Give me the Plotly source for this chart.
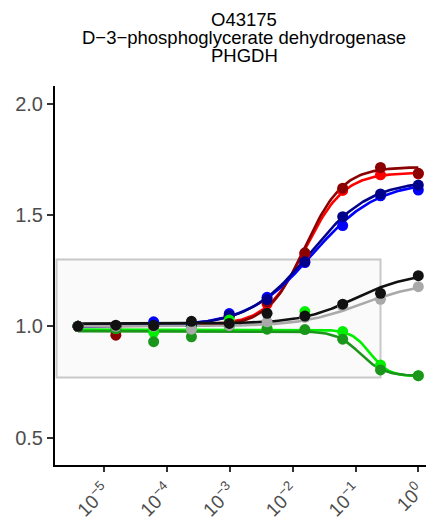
import numpy as np
import plotly.graph_objects as go

# ---------------- data ----------------
conc = [3.815e-6, 1.526e-5, 6.104e-5, 2.441e-4, 9.766e-4, 3.906e-3, 1.5625e-2, 6.25e-2, 0.25, 1.0]

series_names = ["red", "darkred", "blue", "darkblue", "lime", "darkgreen", "gray", "black"]
red       = [1.000, 1.000, 1.000, 1.000, 1.050, 1.100, 1.325, 1.610, 1.680, 1.685]
darkred   = [1.000, 0.960, 1.000, 1.000, 1.045, 1.110, 1.330, 1.620, 1.713, 1.687]
blue      = [1.000, 1.000, 1.020, 1.000, 1.057, 1.130, 1.286, 1.452, 1.586, 1.612]
darkblue  = [1.000, 1.000, 1.005, 1.000, 1.050, 1.120, 1.290, 1.492, 1.594, 1.634]
lime      = [1.000, 0.990, 0.973, 0.990, 1.028, 0.990, 1.066, 0.976, 0.826, 0.778]
darkgreen = [1.000, 0.990, 0.931, 0.953, 1.000, 0.987, 0.985, 0.942, 0.804, 0.778]
gray      = [1.000, 1.000, 1.000, 0.987, 1.003, 1.020, 1.040, 1.090, 1.121, 1.178]
black     = [1.000, 1.005, 1.003, 1.022, 1.013, 1.058, 1.046, 1.099, 1.148, 1.227]

# fitted log-logistic curve parameters: low-conc plateau, high-conc plateau, log10 EC50, hill slope
fit_low   = [1.005, 1.000, 1.000, 1.000, 0.985, 0.978, 1.000, 1.012]
fit_high  = [1.690, 1.715, 1.650, 1.655, 0.775, 0.777, 1.200, 1.240]
fit_logec = [-1.80, -1.80, -1.68, -1.73, -0.77, -0.926, -0.90, -1.00]
fit_hill  = [1.40, 1.45, 0.85, 0.90, 2.90, 2.30, 0.90, 1.00]

colors = ["#FF0000", "#8B0000", "#0000FF", "#00008B", "#00F000", "#1A961A", "#A9A9A9", "#111111"]

title_lines = ["O43175", "D\u22123\u2212phosphoglycerate dehydrogenase", "PHGDH"]
y_ticks = [0.5, 1.0, 1.5, 2.0]
y_ticklabels = ["0.5", "1.0", "1.5", "2.0"]
x_ticks = [1e-5, 1e-4, 1e-3, 1e-2, 1e-1, 1e0]
x_ticklabels = ["10<sup>\u22125</sup>", "10<sup>\u22124</sup>", "10<sup>\u22123</sup>",
                "10<sup>\u22122</sup>", "10<sup>\u22121</sup>", "10<sup>0</sup>"]

# window box (y bounds and x extent)
box_y = [0.77, 1.30]
box_x = [10 ** -5.76, 0.25]

values = [red, darkred, blue, darkblue, lime, darkgreen, gray, black]

# ---------------- figure ----------------
fig = go.Figure()

fig.add_shape(type="rect", xref="x", yref="y",
              x0=box_x[0], x1=box_x[1], y0=box_y[0], y1=box_y[1],
              line=dict(color="#C8C8C8", width=2), fillcolor="#FAFAFA", layer="below")

lx = np.linspace(np.log10(conc[0]), np.log10(conc[-1]), 200)
for i, name in enumerate(series_names):
    A, B, ec, h = fit_low[i], fit_high[i], fit_logec[i], fit_hill[i]
    yc = A + (B - A) / (1 + 10 ** ((ec - lx) * h))
    fig.add_trace(go.Scatter(x=10 ** lx, y=yc, mode="lines",
                             line=dict(color=colors[i], width=2.6),
                             showlegend=False, hoverinfo="skip"))

for i, name in enumerate(series_names):
    fig.add_trace(go.Scatter(x=conc, y=values[i], mode="markers", name=name,
                             marker=dict(color=colors[i], size=11, line=dict(width=0)),
                             showlegend=False))

for k, (txt, sh) in enumerate(zip(title_lines, [67, 49, 31])):
    fig.add_annotation(text=txt, xref="paper", yref="paper", x=0.5, y=1,
                       xanchor="center", yanchor="middle", yshift=sh, showarrow=False,
                       font=dict(family="Liberation Sans, Arial", size=18.5, color="#000000"))

# the page body adds an 8px offset; size the figure to fill the rest of the window
fig.update_layout(
    width=426, height=518,
    margin=dict(l=47, r=1, t=78, b=61, autoexpand=False),
    paper_bgcolor="white", plot_bgcolor="white",
    font=dict(family="Liberation Sans, Arial", color="#4D4D4D"),
)
fig.update_xaxes(type="log", range=[-5.785, 0.234], automargin=False,
                 tickvals=x_ticks, ticktext=x_ticklabels, tickangle=-45,
                 ticks="outside", ticklen=5, tickwidth=2, tickcolor="#333333",
                 tickfont=dict(size=19, color="#4D4D4D"),
                 showline=True, linecolor="black", linewidth=2,
                 showgrid=False, zeroline=False)
fig.update_yaxes(range=[0.377, 2.079], automargin=False,
                 tickvals=y_ticks, ticktext=y_ticklabels,
                 ticks="outside", ticklen=6, tickwidth=2, tickcolor="#333333",
                 tickfont=dict(size=20, color="#4D4D4D"),
                 showline=True, linecolor="black", linewidth=2,
                 showgrid=False, zeroline=False)

fig.write_html("out.html")
